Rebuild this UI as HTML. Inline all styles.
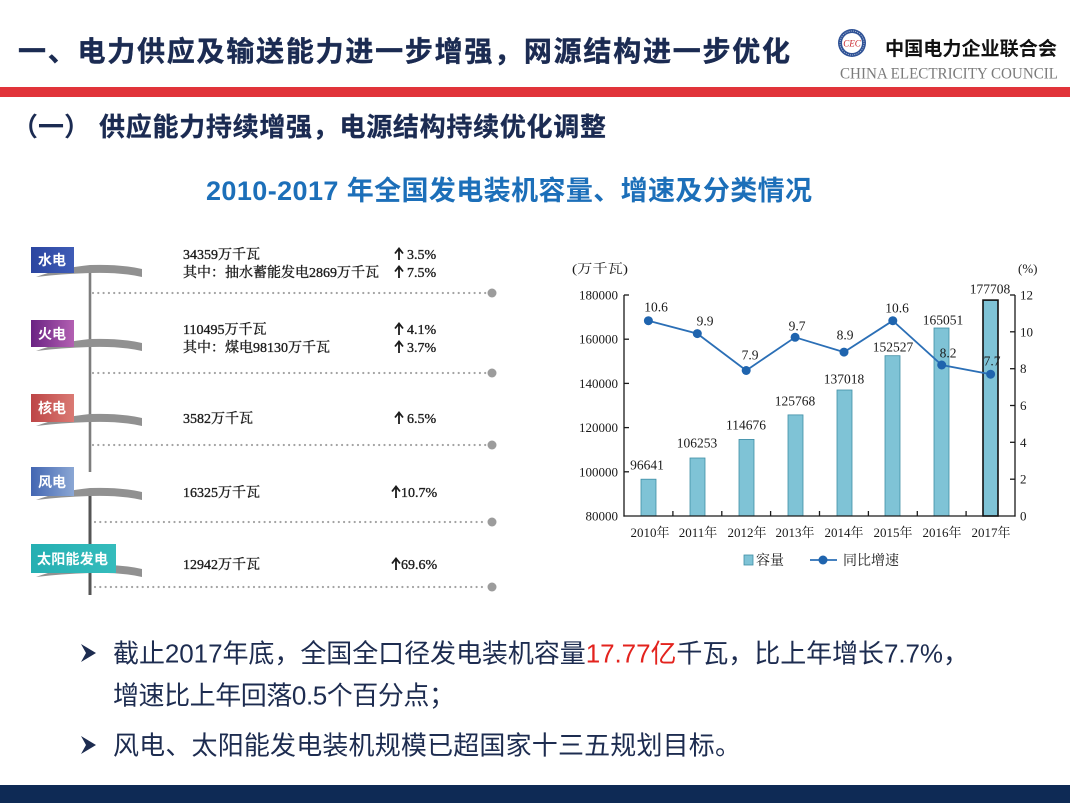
<!DOCTYPE html>
<html>
<head>
<meta charset="utf-8">
<style>
  html,body{margin:0;padding:0;background:#fff;}
  #wrap{position:relative;width:1070px;height:803px;overflow:hidden;background:#fff;}
  svg{position:absolute;left:0;top:0;}
  .sans{font-family:"Liberation Sans","Noto Sans CJK SC",sans-serif;}
  .serif{font-family:"Liberation Serif","Noto Serif CJK SC",serif;}
</style>
</head>
<body>
<div id="wrap">
<svg width="1070" height="803" viewBox="0 0 1070 803" xmlns="http://www.w3.org/2000/svg">
  <defs>
    <linearGradient id="gBlue" x1="0" y1="0" x2="1" y2="0">
      <stop offset="0" stop-color="#2b45a0"/><stop offset="1" stop-color="#3f5cb6"/>
    </linearGradient>
    <linearGradient id="gPurple" x1="0" y1="0" x2="1" y2="0">
      <stop offset="0" stop-color="#6a2383"/><stop offset="1" stop-color="#b360b2"/>
    </linearGradient>
    <linearGradient id="gRed" x1="0" y1="0" x2="1" y2="0">
      <stop offset="0" stop-color="#bd4546"/><stop offset="1" stop-color="#da7a74"/>
    </linearGradient>
    <linearGradient id="gWind" x1="0" y1="0" x2="1" y2="0">
      <stop offset="0" stop-color="#4366b2"/><stop offset="1" stop-color="#8ba7d4"/>
    </linearGradient>
    <linearGradient id="gTeal" x1="0" y1="0" x2="1" y2="0">
      <stop offset="0" stop-color="#25afb2"/><stop offset="1" stop-color="#35bcbc"/>
    </linearGradient>
  </defs>

  <!-- Header -->
  <text x="18" y="61" class="sans" font-size="28" font-weight="700" fill="#1b2b52" stroke="#1b2b52" stroke-width="0.4" textLength="772" lengthAdjust="spacing">一、电力供应及输送能力进一步增强，网源结构进一步优化</text>

  <!-- Logo -->
  <circle cx="852" cy="43" r="14" fill="#2f5296"/>
  <circle cx="852" cy="43" r="10" fill="#fff"/>
  <circle cx="852" cy="43" r="12" fill="none" stroke="#c9d3e6" stroke-width="0.8" stroke-dasharray="1 1.2"/>
  <text x="852" y="46.5" text-anchor="middle" class="serif" font-size="9" font-style="italic" fill="#c8242c">CEC</text>
  <text x="885" y="55" class="sans" font-size="19" font-weight="700" fill="#111" textLength="172" lengthAdjust="spacingAndGlyphs">中国电力企业联合会</text>
  <text x="840" y="78.5" class="serif" font-size="15.5" fill="#7a7a7a" textLength="218" lengthAdjust="spacingAndGlyphs">CHINA ELECTRICITY COUNCIL</text>

  <rect x="0" y="87" width="1070" height="10" fill="#e1343a"/>

  <!-- Subtitle -->
  <text x="12" y="136" class="sans" font-size="26" font-weight="700" fill="#1b2b52">（一）</text>
  <text x="99" y="136" class="sans" font-size="26" font-weight="700" fill="#1b2b52" stroke="#1b2b52" stroke-width="0.3" textLength="507" lengthAdjust="spacing">供应能力持续增强，电源结构持续优化调整</text>

  <!-- Chart title -->
  <text x="206" y="200" class="sans" font-size="27" font-weight="700" fill="#1c6fb9" textLength="606" lengthAdjust="spacing">2010-2017 年全国发电装机容量、增速及分类情况</text>

  <!-- ===== Left panel ===== -->
  <line x1="90" y1="268" x2="90" y2="472" stroke="#7d7d7d" stroke-width="2.6"/>
  <line x1="90" y1="492" x2="90" y2="595" stroke="#555" stroke-width="3"/>

  <g stroke="#a3a3a3" stroke-width="2.2" stroke-linecap="round" stroke-dasharray="0 5.3">
    <line x1="93" y1="293" x2="487" y2="293"/>
    <line x1="93" y1="373" x2="487" y2="373"/>
    <line x1="93" y1="445" x2="487" y2="445"/>
    <line x1="95" y1="522" x2="487" y2="522"/>
    <line x1="95" y1="587" x2="487" y2="587"/>
  </g>
  <g fill="#9c9c9c">
    <circle cx="492" cy="293" r="4.5"/>
    <circle cx="492" cy="373" r="4.5"/>
    <circle cx="492" cy="445" r="4.5"/>
    <circle cx="492" cy="522" r="4.5"/>
    <circle cx="492" cy="587" r="4.5"/>
  </g>

  <g fill="#919191">
    <path d="M36,277 Q60,268 90,265 Q120,264 142,269 L142,277 Q120,272 90,273 Q60,274 36,277 Z"/>
    <path d="M36,351 Q60,342 90,339 Q120,338 142,343 L142,351 Q120,346 90,347 Q60,348 36,351 Z"/>
    <path d="M36,426 Q60,417 90,414 Q120,413 142,418 L142,426 Q120,421 90,422 Q60,423 36,426 Z"/>
    <path d="M36,500 Q60,491 90,488 Q120,487 142,492 L142,500 Q120,495 90,496 Q60,497 36,500 Z"/>
    <path d="M36,577 Q60,568 90,565 Q120,564 142,569 L142,577 Q120,572 90,573 Q60,574 36,577 Z"/>
  </g>

  <rect x="31" y="247" width="43" height="26" fill="url(#gBlue)"/>
  <rect x="31" y="320" width="43" height="27" fill="url(#gPurple)"/>
  <rect x="31" y="394" width="43" height="28" fill="url(#gRed)"/>
  <rect x="31" y="467" width="43" height="29" fill="url(#gWind)"/>
  <rect x="31" y="544" width="85" height="29" fill="url(#gTeal)"/>
  <g class="sans" font-size="14" font-weight="700" fill="#fff">
    <text x="38" y="265">水电</text>
    <text x="38" y="339">火电</text>
    <text x="38" y="413">核电</text>
    <text x="38" y="487">风电</text>
    <text x="37" y="564" textLength="71" lengthAdjust="spacing">太阳能发电</text>
  </g>

  <g class="serif" font-size="14" fill="#1c1c1c" stroke="#1c1c1c" stroke-width="0.35">
    <text x="183" y="259">34359万千瓦</text>
    <text x="183" y="277" textLength="196" lengthAdjust="spacing">其中：抽水蓄能发电2869万千瓦</text>
    <text x="183" y="334">110495万千瓦</text>
    <text x="183" y="352">其中：煤电98130万千瓦</text>
    <text x="183" y="423">3582万千瓦</text>
    <text x="183" y="497">16325万千瓦</text>
    <text x="183" y="569">12942万千瓦</text>

    <text x="407" y="259">3.5%</text>
    <text x="407" y="277">7.5%</text>
    <text x="407" y="334">4.1%</text>
    <text x="407" y="352">3.7%</text>
    <text x="407" y="423">6.5%</text>
    <text x="401" y="497">10.7%</text>
    <text x="401" y="569">69.6%</text>
  </g>
  <!-- arrows -->
  <g stroke="#1c1c1c" stroke-width="1.8" fill="none" stroke-linecap="butt">
    <path d="M399,260 V249 M395,253.5 L399,248.5 L403,253.5"/>
    <path d="M399,278 V267 M395,271.5 L399,266.5 L403,271.5"/>
    <path d="M399,335 V324 M395,328.5 L399,323.5 L403,328.5"/>
    <path d="M399,353 V342 M395,346.5 L399,341.5 L403,346.5"/>
    <path d="M399,424 V413 M395,417.5 L399,412.5 L403,417.5"/>
    <path d="M396,498 V487 M392,491.5 L396,486.5 L400,491.5"/>
    <path d="M396,570 V559 M392,563.5 L396,558.5 L400,563.5"/>
  </g>

  <!-- ===== Chart ===== -->
  <g class="serif" font-size="13" fill="#1a1a1a">
    <text x="572" y="273" textLength="56" lengthAdjust="spacingAndGlyphs">(万千瓦)</text>
    <text x="1018" y="273">(%)</text>
  </g>

  <g fill="#7fc3d6" stroke="#3f8ea6" stroke-width="0.8">
    <rect x="641" y="479.2" width="15" height="36.8"/>
    <rect x="690" y="458.0" width="15" height="58.0"/>
    <rect x="739" y="439.4" width="15" height="76.6"/>
    <rect x="788" y="414.9" width="15" height="101.1"/>
    <rect x="837" y="390.0" width="15" height="126.0"/>
    <rect x="885" y="355.7" width="15" height="160.3"/>
    <rect x="934" y="328.0" width="15" height="188.0"/>
  </g>
  <rect x="983" y="300.1" width="15" height="215.9" fill="#7fc3d6" stroke="#111" stroke-width="1.6"/>

  <g stroke="#1a1a1a" stroke-width="1.3" fill="none">
    <line x1="624" y1="295" x2="624" y2="516.6"/>
    <line x1="1015" y1="295" x2="1015" y2="516.6"/>
    <line x1="623.4" y1="516" x2="1015.6" y2="516"/>
    <line x1="624" y1="295" x2="629" y2="295"/>
    <line x1="624" y1="339.2" x2="629" y2="339.2"/>
    <line x1="624" y1="383.4" x2="629" y2="383.4"/>
    <line x1="624" y1="427.6" x2="629" y2="427.6"/>
    <line x1="624" y1="471.8" x2="629" y2="471.8"/>
    <line x1="1010" y1="295" x2="1015" y2="295"/>
    <line x1="1010" y1="331.8" x2="1015" y2="331.8"/>
    <line x1="1010" y1="368.7" x2="1015" y2="368.7"/>
    <line x1="1010" y1="405.5" x2="1015" y2="405.5"/>
    <line x1="1010" y1="442.3" x2="1015" y2="442.3"/>
    <line x1="1010" y1="479.2" x2="1015" y2="479.2"/>
    <line x1="672.9" y1="516" x2="672.9" y2="511"/>
    <line x1="721.8" y1="516" x2="721.8" y2="511"/>
    <line x1="770.6" y1="516" x2="770.6" y2="511"/>
    <line x1="819.5" y1="516" x2="819.5" y2="511"/>
    <line x1="868.4" y1="516" x2="868.4" y2="511"/>
    <line x1="917.3" y1="516" x2="917.3" y2="511"/>
    <line x1="966.1" y1="516" x2="966.1" y2="511"/>
  </g>

  <g class="serif" font-size="13" fill="#1a1a1a" text-anchor="end">
    <text x="618" y="299.5">180000</text>
    <text x="618" y="343.7">160000</text>
    <text x="618" y="387.9">140000</text>
    <text x="618" y="432.1">120000</text>
    <text x="618" y="476.3">100000</text>
    <text x="618" y="520.5">80000</text>
  </g>
  <g class="serif" font-size="13" fill="#1a1a1a">
    <text x="1020" y="299.5">12</text>
    <text x="1020" y="336.3">10</text>
    <text x="1020" y="373.2">8</text>
    <text x="1020" y="410">6</text>
    <text x="1020" y="446.8">4</text>
    <text x="1020" y="483.7">2</text>
    <text x="1020" y="520.5">0</text>
  </g>
  <g class="serif" font-size="13" fill="#1a1a1a" text-anchor="middle">
    <text x="650" y="537">2010年</text>
    <text x="698" y="537">2011年</text>
    <text x="747" y="537">2012年</text>
    <text x="795" y="537">2013年</text>
    <text x="844" y="537">2014年</text>
    <text x="893" y="537">2015年</text>
    <text x="942" y="537">2016年</text>
    <text x="991" y="537">2017年</text>
  </g>

  <g class="serif" font-size="13.5" fill="#1a1a1a" text-anchor="middle">
    <text x="647" y="469.5">96641</text>
    <text x="697" y="447.5">106253</text>
    <text x="746" y="429.5">114676</text>
    <text x="795" y="405.5">125768</text>
    <text x="844" y="383.5">137018</text>
    <text x="893" y="351.5">152527</text>
    <text x="943" y="324.5">165051</text>
    <text x="990" y="293.5">177708</text>
  </g>

  <polyline points="648.4,320.7 697.3,333.6 746.2,370.5 795.1,337.3 844,352.1 892.8,320.7 941.7,365 990.6,374.2" fill="none" stroke="#2b6fb6" stroke-width="1.8"/>
  <g fill="#1f64ae">
    <circle cx="648.4" cy="320.7" r="4.5"/>
    <circle cx="697.3" cy="333.6" r="4.5"/>
    <circle cx="746.2" cy="370.5" r="4.5"/>
    <circle cx="795.1" cy="337.3" r="4.5"/>
    <circle cx="844" cy="352.1" r="4.5"/>
    <circle cx="892.8" cy="320.7" r="4.5"/>
    <circle cx="941.7" cy="365" r="4.5"/>
    <circle cx="990.6" cy="374.2" r="4.5"/>
  </g>
  <g class="serif" font-size="13.5" fill="#1a1a1a" text-anchor="middle">
    <text x="656" y="311.5">10.6</text>
    <text x="705" y="325.5">9.9</text>
    <text x="750" y="359.5">7.9</text>
    <text x="797" y="330.5">9.7</text>
    <text x="845" y="339.5">8.9</text>
    <text x="897" y="312.5">10.6</text>
    <text x="948" y="357.5">8.2</text>
    <text x="992" y="365.5">7.7</text>
  </g>

  <rect x="744" y="555" width="9" height="10" fill="#7fc3d6" stroke="#3f8ea6" stroke-width="0.8"/>
  <text x="756" y="565" class="serif" font-size="14" fill="#1a1a1a">容量</text>
  <line x1="810" y1="560" x2="837" y2="560" stroke="#2b6fb6" stroke-width="1.8"/>
  <circle cx="823" cy="560" r="4.5" fill="#1f64ae"/>
  <text x="843" y="565" class="serif" font-size="14" fill="#1a1a1a">同比增速</text>

  <!-- ===== Bullets ===== -->
  <g fill="#1d2c50">
    <polygon points="81,644 96,653 81,662 86,653"/>
    <polygon points="81,736 96,745 81,754 86,745"/>
  </g>
  <g class="sans" font-size="26" fill="#1d2c50">
    <text x="113" y="662.5" textLength="856" lengthAdjust="spacing">截止2017年底，全国全口径发电装机容量<tspan fill="#e3231e">17.77亿</tspan>千瓦，比上年增长7.7%，</text>
    <text x="113" y="704.5" textLength="342" lengthAdjust="spacing">增速比上年回落0.5个百分点；</text>
    <text x="113" y="754.5" textLength="628" lengthAdjust="spacing">风电、太阳能发电装机规模已超国家十三五规划目标。</text>
  </g>

  <rect x="0" y="785" width="1070" height="18" fill="#0e2a55"/>
</svg>
</div>
</body>
</html>
